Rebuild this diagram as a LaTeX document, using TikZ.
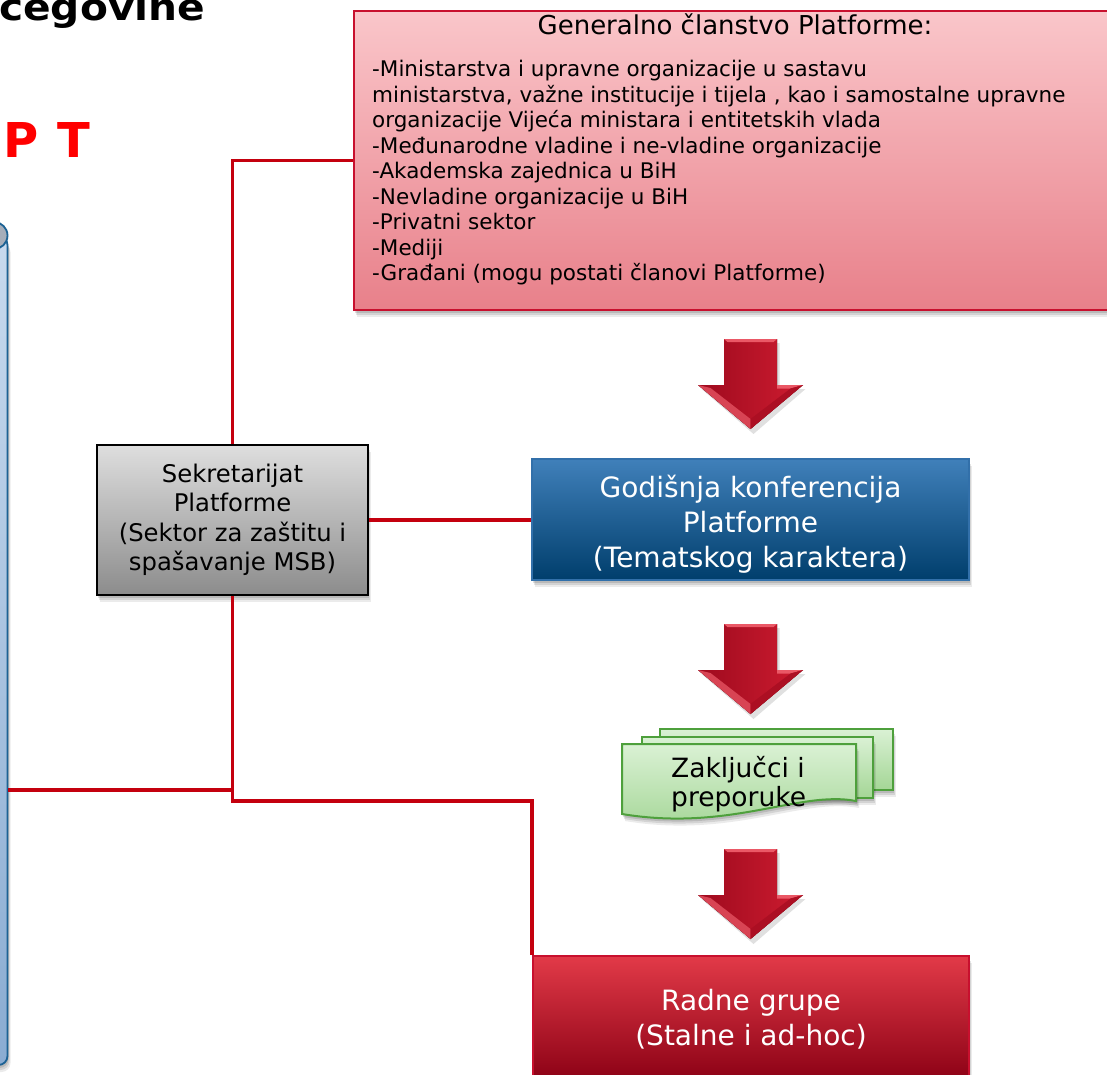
\documentclass[tikz,border=0pt]{standalone}
\usepackage{fontspec}
\setmainfont{DejaVu Sans}
\usetikzlibrary{shadows}
\definecolor{connred}{RGB}{196,0,14}
\definecolor{genborder}{RGB}{200,16,46}
\definecolor{gentop}{RGB}{250,198,202}
\definecolor{genbot}{RGB}{232,128,138}
\definecolor{godtop}{RGB}{64,128,186}
\definecolor{godbot}{RGB}{0,62,108}
\definecolor{godborder}{RGB}{50,112,170}
\definecolor{sektop}{RGB}{222,222,222}
\definecolor{sekbot}{RGB}{140,140,140}
\definecolor{radtop}{RGB}{226,58,72}
\definecolor{radbot}{RGB}{138,0,20}
\definecolor{zaktop}{RGB}{218,241,212}
\definecolor{zakbot}{RGB}{164,214,150}
\definecolor{zakborder}{RGB}{78,160,60}
\definecolor{arrdark}{RGB}{158,10,30}
\definecolor{arrlight}{RGB}{206,28,48}
\definecolor{arrbevel}{RGB}{216,68,84}
\definecolor{arrhigh}{RGB}{234,88,102}
\definecolor{scrolltop}{RGB}{200,218,238}
\definecolor{scrollbot}{RGB}{138,172,210}
\definecolor{scrollborder}{RGB}{28,98,148}
\definecolor{curlgray}{RGB}{166,174,186}
\begin{document}
\begin{tikzpicture}[x=1pt,y=-1pt,
  softshadow/.style={
    drop shadow={shadow xshift=1pt,shadow yshift=-3pt,opacity=.12,fill=black},
    drop shadow={shadow xshift=2pt,shadow yshift=-5pt,opacity=.10,fill=black},
    drop shadow={shadow xshift=3pt,shadow yshift=-7pt,opacity=.08,fill=black}},
  link/.style={draw=connred, line width=3.2pt},
  genbox/.style={rectangle, draw=genborder, line width=2pt, top color=gentop, bottom color=genbot, softshadow, inner sep=0pt},
  godbox/.style={rectangle, draw=godborder, line width=1.5pt, top color=godtop, bottom color=godbot, softshadow, text=white, align=center, font=\fontsize{28}{35}\selectfont},
  sekbox/.style={rectangle, draw=black, line width=1.5pt, top color=sektop, bottom color=sekbot, softshadow, align=center, font=\fontsize{24.3}{29.5}\selectfont},
  radbox/.style={rectangle, draw=genborder, line width=2pt, top color=radtop, bottom color=radbot, softshadow, text=white, align=center, font=\fontsize{28}{35}\selectfont},
  zakpage/.style={draw=zakborder, line width=2pt, top color=zaktop, bottom color=zakbot, softshadow},
  downarrow/.pic={
    \fill[black, opacity=.12] (-24,4) -- (29,4) -- (29,50) -- (55,50) -- (3,95) -- (-49,50) -- (-24,50) -- cycle;
    \fill[left color=arrdark, right color=arrlight] (-26.5,0) -- (26.5,0) -- (26.5,46) -- (52.5,46) -- (0,90) -- (-52.5,46) -- (-26.5,46) -- cycle;
    \fill[arrbevel] (-52.5,46) -- (0,90) -- (0,80) -- (-40,49) -- cycle;
    \fill[arrhigh] (26.5,46) -- (52.5,46) -- (40,49.5) -- (26.5,49.5) -- cycle;
    \fill[arrdark!70!arrlight] (52.5,46) -- (0,90) -- (0,80) -- (40,49.5) -- cycle;
    \fill[arrhigh] (-26.5,0) -- (26.5,0) -- (23,3) -- (-23,3) -- cycle;
  }
]
\useasboundingbox (0,0) rectangle (1107,1074);
\clip (0,0) rectangle (1107,1074);

% title fragments
\node[anchor=base west, inner sep=0pt, font=\fontsize{37}{40}\selectfont\bfseries, xscale=1.1, transform shape] (title) at (-1,20) {cegovine};
\node[anchor=base west, inner sep=0pt, font=\fontsize{48}{52}\selectfont\bfseries, text=red] (pt) at (3,157) {P\kern2pt{} T};

% left scroll (cut off)
\path[draw=scrollborder, line width=1.8pt, top color=scrolltop, bottom color=scrollbot, rounded corners=9pt, softshadow] (-40,236) -- (7.5,236) -- (7.5,1065) -- (-40,1065);
\path[draw=scrollborder, line width=1.8pt, fill=curlgray] (-6,235.5) circle[radius=13.5];
\coordinate (scrollR) at (7.5,790);

% general membership box
\node[genbox, anchor=north west, minimum width=765pt, minimum height=299pt] (gen) at (353,10) {};
\node[anchor=base, inner sep=0pt, font=\fontsize{26}{30}\selectfont] (genhead) at (735,34) {Generalno članstvo Platforme:};
\node[anchor=north west, inner sep=0pt, align=left, font=\fontsize{21.5}{25.5}\selectfont] (genlist) at (372,60) {-Ministarstva i upravne organizacije u sastavu\\ministarstva, važne institucije i tijela , kao i samostalne upravne\\organizacije Vijeća ministara i entitetskih vlada\\-Međunarodne vladine i ne-vladine organizacije\\-Akademska zajednica u BiH\\-Nevladine organizacije u BiH\\-Privatni sektor\\-Mediji\\-Građani (mogu postati članovi Platforme)};

% secretariat
\node[sekbox, minimum width=271pt, minimum height=150pt] (sek) at (232.5,520) {Sekretarijat\\Platforme\\(Sektor za zaštitu i\\spašavanje MSB)};

% annual conference
\node[godbox, minimum width=437pt, minimum height=121pt] (god) at (750.5,519.5) {\rule{0pt}{31.6pt}Godišnja konferencija\\Platforme\\(Tematskog karaktera)};

% working groups
\node[radbox, anchor=north, minimum width=436pt, minimum height=127pt] (radne) at (751,955) {Radne grupe\\(Stalne i ad-hoc)};

% conclusions (multi-document)
\path[zakpage] (660,729) rectangle (893,790);
\path[zakpage] (642,737) rectangle (873,798);
\path[zakpage] (622,744) -- (856,744) -- (856,801) .. controls (800,790) and (730,832) .. (622,814) -- cycle;
\node[anchor=north west, inner sep=0pt, align=left, font=\fontsize{26.5}{28.3}\selectfont] (zak) at (671,756.5) {Zaključci i\\preporuke};

% block arrows
\pic at (750.5,339) {downarrow};
\pic at (750.5,624) {downarrow};
\pic at (750.5,849) {downarrow};

% connectors
\coordinate (junc) at (232.5,801);
\draw[link] (sek.north) |- (gen.west);
\draw[link] (sek.east) -- (sek.east -| god.west);
\draw[link] (sek.south) -- (junc) -- (junc -| radne.north west) -- (radne.north west);
\draw[link] (sek.south |- scrollR) -- (scrollR);
\end{tikzpicture}
\end{document}
